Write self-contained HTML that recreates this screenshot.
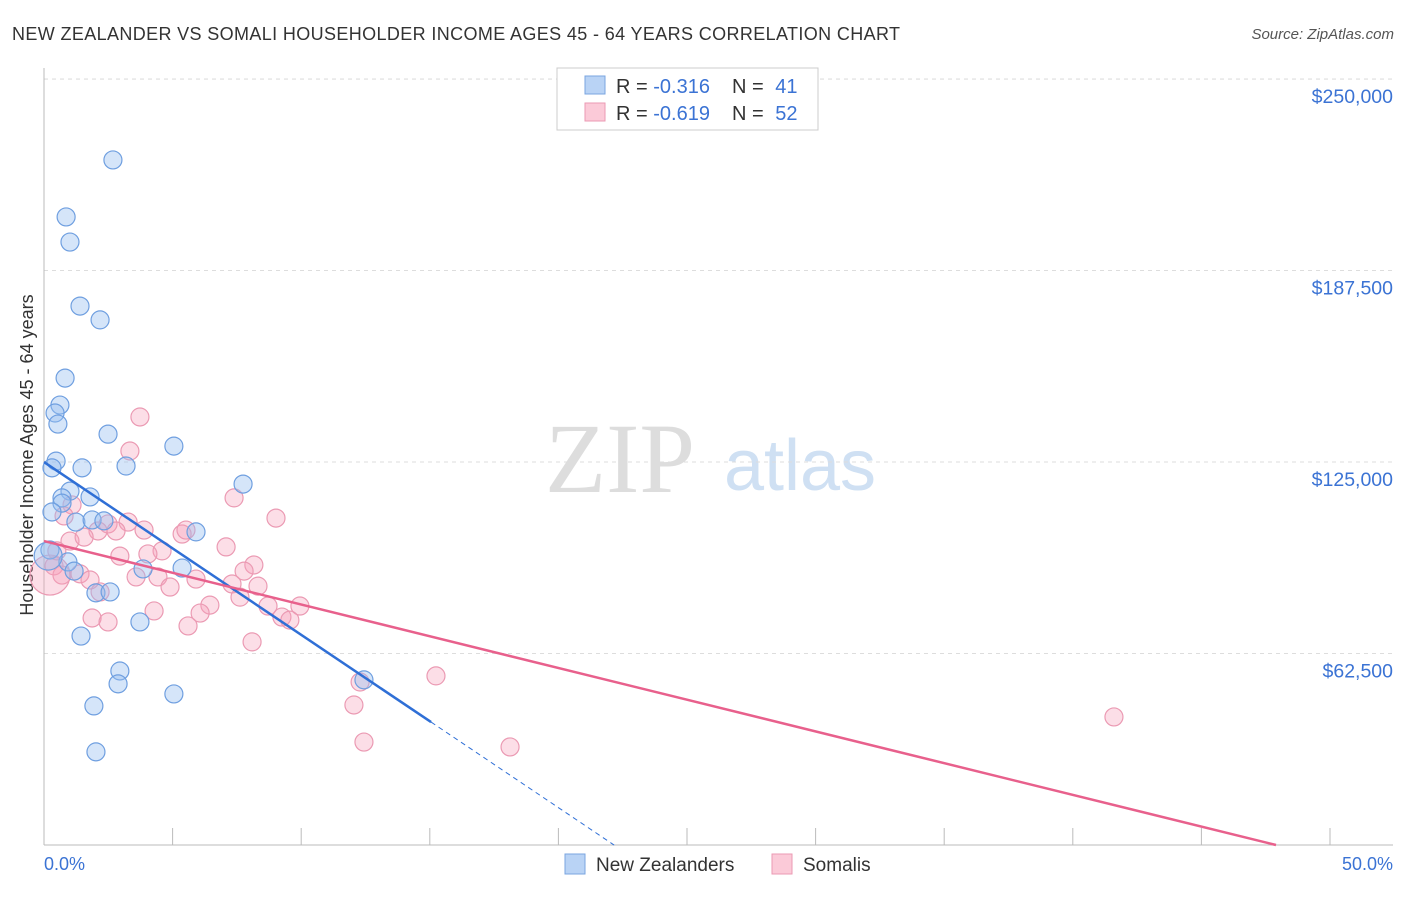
<!DOCTYPE html>
<html><head><meta charset="utf-8"><style>
body{margin:0;background:#fff;font-family:"Liberation Sans",sans-serif}
</style></head><body>
<svg id="c" width="1406" height="892" xmlns="http://www.w3.org/2000/svg">
<text x="12" y="40" font-size="18" fill="#333" textLength="888">NEW ZEALANDER VS SOMALI HOUSEHOLDER INCOME AGES 45 - 64 YEARS CORRELATION CHART</text>
<text x="1394" y="39" font-size="15" fill="#555" font-style="italic" text-anchor="end">Source: ZipAtlas.com</text>
<text x="33" y="455" font-size="18" fill="#333" text-anchor="middle" transform="rotate(-90 33 455)">Householder Income Ages 45 - 64 years</text>
<text x="620" y="492" font-size="100" fill="#ddd" font-family="Liberation Serif" text-anchor="middle">ZIP</text>
<text x="800" y="490" font-size="72" fill="#cfe0f3" text-anchor="middle">atlas</text>
<g id="grid"></g><g id="axes"></g><g id="pts"></g><g id="trend"></g>
<g>
<rect x="557" y="68" width="261" height="62" fill="#fff" stroke="#ccc"/>
<rect x="585" y="76" width="20" height="18" fill="#b9d3f5" stroke="#7aa5e0"/>
<rect x="585" y="103" width="20" height="18" fill="#fbcad8" stroke="#eb9ab3"/>
<text x="616" y="93" font-size="20" fill="#333">R = <tspan fill="#3b73d4">-0.316</tspan></text>
<text x="732" y="93" font-size="20" fill="#333">N = <tspan dx="6" fill="#3b73d4">41</tspan></text>
<text x="616" y="120" font-size="20" fill="#333">R = <tspan fill="#3b73d4">-0.619</tspan></text>
<text x="732" y="120" font-size="20" fill="#333">N = <tspan dx="6" fill="#3b73d4">52</tspan></text>
</g>
<g>
<rect x="565" y="854" width="20" height="20" fill="#b9d3f5" stroke="#7aa5e0"/>
<text x="596" y="871" font-size="19" fill="#333">New Zealanders</text>
<rect x="772" y="854" width="20" height="20" fill="#fbcad8" stroke="#eb9ab3"/>
<text x="803" y="871" font-size="19" fill="#333">Somalis</text>
</g>
<text x="44" y="870" font-size="18" fill="#3b73d4">0.0%</text>
<text x="1393" y="870" font-size="18" fill="#3b73d4" text-anchor="end">50.0%</text>
</svg>
<script>
const yTicks=[62500,125000,187500,250000];
const yTickLabels=["$62,500","$125,000","$187,500","$250,000"];
const nzX=[2.68,0.86,1.01,1.40,2.18,0.82,0.62,0.43,0.54,2.49,5.05,0.47,0.31,1.48,3.19,7.74,1.01,0.70,1.79,0.70,0.31,1.24,1.87,2.33,5.91,0.23,0.93,1.17,3.85,5.37,2.02,2.57,3.73,1.44,2.95,2.88,5.05,1.94,12.44,2.02,0.16];
const nzY=[223600,205000,196800,175900,171400,152400,143600,141000,137400,134100,130200,125300,123100,123100,123700,117800,115500,113300,113600,111600,108700,105400,106100,105800,102200,96300,92400,89400,90100,90400,82300,82600,72800,68200,56800,52600,49300,45400,53900,30400,94300];
const soX=[3.73,3.34,7.39,9.02,1.09,0.78,3.27,2.49,2.10,2.80,3.89,5.37,5.52,1.01,1.56,7.08,4.59,2.95,4.04,8.16,7.78,0.39,1.40,0.70,1.79,3.58,4.43,5.91,7.31,8.32,4.90,7.62,6.45,6.07,8.71,9.95,4.28,5.60,9.25,9.56,1.87,2.49,8.09,12.29,15.24,12.05,12.44,18.12,41.60,0.23,2.18,0.5];
const soY=[139700,128600,113300,106700,111000,107400,105400,104800,102500,102500,102800,101500,102800,99200,100500,97300,96000,94300,95000,91400,89400,91100,88500,88100,86500,87500,87500,86800,85200,84500,84200,80900,78300,75700,78000,78000,76400,71500,74400,73400,74100,72800,66300,53200,55200,45700,33600,32000,41800,88100,82600,96000];
const nzTrend=[125000,-5640];
const soTrend=[99200,-2071];
const X=p=>44+p*25.72, Y=v=>845-v/326.4;
const NS="http://www.w3.org/2000/svg";
function mk(t,a,parent){const e=document.createElementNS(NS,t);for(const k in a)e.setAttribute(k,a[k]);document.getElementById(parent).appendChild(e);return e;}
yTicks.forEach((v,i)=>{
 const l=mk('line',{x1:44,x2:1393,y1:Y(v),y2:Y(v),stroke:'#ddd','stroke-dasharray':'4,4'},'grid');
 
 
 const t=mk('text',{x:1393,y:Y(v)+24,'font-size':19.5,fill:'#3b73d4','text-anchor':'end'},'grid');
 t.textContent=yTickLabels[i];
 
 
});
const g0=mk('line',{x1:44,x2:1393,y1:79,y2:79,stroke:'#ddd','stroke-dasharray':'4,4'},'grid');


const ax=mk('line',{x1:44,x2:44,y1:68,y2:845,stroke:'#bbb'},'axes');


const bx=mk('line',{x1:44,x2:1393,y1:845,y2:845,stroke:'#bbb'},'axes');


for(let i=0;i<=10;i++){const tk=mk('line',{x1:X(i*5),x2:X(i*5),y1:828,y2:845,stroke:'#bbb'},'axes');
 
 }
soX.forEach((x,i)=>{const r=(i==49)?20:9;const c=mk('circle',{cx:X(x),cy:Y(soY[i]),r:r,fill:'rgba(245,160,185,0.35)',stroke:'#eb9ab3','stroke-width':1.2},'pts');
 
 });
nzX.forEach((x,i)=>{const r=(i==40)?14:9;const c=mk('circle',{cx:X(x),cy:Y(nzY[i]),r:r,fill:'rgba(150,190,240,0.4)',stroke:'#6f9fe0','stroke-width':1.2},'pts');
 
 });
const f=(t,p)=>t[0]+t[1]*p;
const l1=mk('line',{x1:X(0),y1:Y(f(nzTrend,0)),x2:X(15.05),y2:Y(f(nzTrend,15.05)),stroke:'#2f6fd6','stroke-width':2.5},'trend');


const l2=mk('line',{x1:X(15.05),y1:Y(f(nzTrend,15.05)),x2:X(22.17),y2:Y(f(nzTrend,22.17)),stroke:'#2f6fd6','stroke-width':1,'stroke-dasharray':'5,4'},'trend');


const l3=mk('line',{x1:X(0),y1:Y(f(soTrend,0)),x2:X(47.9),y2:Y(f(soTrend,47.9)),stroke:'#e8608c','stroke-width':2.5},'trend');


</script>
</body></html>
